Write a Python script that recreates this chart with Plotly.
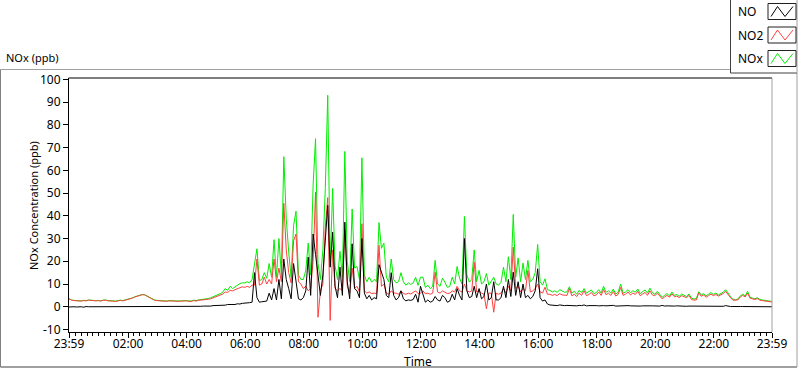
import pandas as pd
import plotly.graph_objects as go

# ---------------- data (5-minute samples, 23:59 -> 23:59) ----------------
nox_ppb = [
    3.6, 3.0, 2.8, 2.7, 2.9, 2.6, 2.8, 2.7, 3.0, 2.8, 2.6, 2.7,
    2.8, 2.6, 2.9, 3.0, 2.7, 2.8, 2.6, 2.5, 2.8, 2.9, 2.7, 3.0,
    3.1, 3.4, 3.9, 4.4, 4.8, 5.2, 5.4, 5.3, 4.7, 4.0, 3.4, 3.0,
    2.8, 2.7, 2.6, 2.8, 2.5, 2.7, 2.6, 2.8, 2.7, 2.5, 2.6, 2.8,
    2.7, 2.6, 2.5, 2.9, 2.7, 3.0, 3.1, 3.3, 3.2, 3.6, 3.9, 4.3,
    4.9, 5.3, 5.8, 6.4, 8.0, 7.2, 9.0, 8.0, 8.8, 9.5, 10.2, 10.5,
    10.5, 11.0, 10.5, 12.0, 19.0, 25.5, 11.5, 12.0, 15.0, 12.5, 19.0, 13.0,
    29.5, 13.0, 30.0, 14.0, 66.0, 38.8, 24.0, 13.0, 35.7, 42.0, 14.0, 12.0,
    12.0, 16.0, 28.0, 14.0, 53.4, 73.9, 19.0, 12.0, 25.0, 52.0, 93.0, 18.0,
    52.0, 18.0, 12.0, 24.4, 13.0, 68.3, 20.0, 11.0, 43.0, 17.0, 17.7, 12.0,
    65.5, 14.0, 11.0, 13.0, 10.8, 12.0, 11.0, 37.0, 25.7, 28.0, 13.0, 11.0,
    21.0, 12.0, 10.5, 11.0, 15.0, 11.0, 9.5, 10.5, 9.8, 10.5, 13.0, 9.4,
    13.0, 13.0, 8.5, 9.5, 8.0, 9.0, 20.4, 10.0, 9.0, 12.6, 10.8, 8.5,
    9.0, 13.0, 10.0, 17.7, 12.6, 10.0, 39.7, 14.0, 10.8, 12.0, 25.0, 11.0,
    16.0, 10.0, 11.0, 14.6, 9.5, 11.0, 13.0, 10.0, 9.5, 10.8, 17.4, 11.0,
    22.0, 12.0, 40.6, 13.0, 21.5, 11.0, 19.2, 12.0, 20.4, 11.0, 12.0, 15.0,
    27.4, 11.0, 9.5, 12.3, 7.5, 7.2, 6.5, 7.0, 6.3, 7.5, 6.8, 6.4,
    6.5, 8.8, 6.0, 6.8, 5.5, 7.2, 6.2, 8.0, 6.0, 6.6, 7.4, 5.8,
    6.2, 7.5, 6.0, 9.0, 6.4, 7.0, 6.0, 7.8, 5.6, 6.5, 10.0, 6.0,
    6.5, 7.5, 6.2, 7.0, 6.4, 7.8, 5.8, 6.6, 7.4, 6.0, 8.2, 6.2,
    5.5, 6.8, 5.2, 4.2, 5.0, 5.8, 4.8, 6.5, 5.0, 5.4, 4.6, 5.6,
    5.0, 4.5, 5.6, 3.8, 3.4, 3.6, 6.6, 5.2, 5.8, 4.8, 5.5, 6.2,
    5.4, 6.0, 5.2, 5.8, 6.4, 7.5, 5.8, 4.5, 3.2, 3.0, 3.4, 4.8,
    5.5, 4.8, 6.8, 4.2, 3.8, 3.5, 4.0, 3.2, 3.0, 2.8, 2.6, 2.4,
    2.3,
]

no2_ppb = [
    3.5, 2.9, 2.7, 2.6, 2.8, 2.5, 2.7, 2.6, 2.9, 2.7, 2.5, 2.6,
    2.7, 2.5, 2.8, 2.9, 2.6, 2.7, 2.5, 2.3, 2.7, 2.8, 2.6, 2.9,
    3.0, 3.3, 3.8, 4.3, 4.7, 5.1, 5.3, 5.2, 4.6, 3.9, 3.3, 2.9,
    2.7, 2.6, 2.5, 2.7, 2.4, 2.6, 2.5, 2.7, 2.6, 2.4, 2.5, 2.7,
    2.6, 2.4, 2.3, 2.7, 2.5, 2.8, 2.9, 3.1, 2.9, 3.3, 3.5, 3.9,
    4.4, 4.7, 5.2, 5.6, 6.5, 6.3, 7.2, 7.0, 7.5, 8.0, 8.5, 8.8,
    8.5, 9.0, 8.5, 9.5, 9.5, 21.0, 9.5, 10.0, 13.0, 10.0, 12.0, 10.0,
    21.0, 11.0, 17.0, 11.0, 45.5, 25.0, 15.0, 10.5, 29.0, 32.0, 11.0, 10.0,
    8.0, 9.0, 7.0, 8.0, 20.0, 50.4, -4.6, 7.0, 10.0, 35.0, 48.0, -6.0,
    25.0, 8.0, 7.0, 8.0, 7.0, 33.6, 9.0, 6.0, 17.0, 8.0, 9.0, 6.5,
    36.5, 7.0, 6.0, 6.5, 5.8, 6.0, 5.8, 27.0, 9.0, 10.0, 6.0, 5.5,
    7.0, 6.0, 6.0, 5.5, 7.0, 5.8, 5.5, 6.0, 5.6, 6.2, 7.0, 5.8,
    6.0, 7.0, 5.7, 6.0, 5.5, 6.0, 15.2, 6.5, 6.0, 7.0, 6.5, 5.8,
    6.0, 7.0, 6.5, 9.0, 7.0, 6.5, 10.0, 7.0, 6.5, 7.0, 19.6, 6.5,
    7.0, 6.0, 5.5, -0.9, 6.0, 6.0, -2.4, 6.0, 5.5, 6.0, 8.0, 6.0,
    9.0, 7.0, 26.2, 8.0, 9.0, 6.5, 8.0, 7.0, 16.0, 6.5, 7.0, 8.0,
    10.0, 6.5, 6.0, 8.6, 5.5, 5.5, 5.0, 5.4, 4.9, 5.8, 5.2, 5.0,
    5.0, 8.0, 4.8, 5.5, 4.5, 6.0, 5.0, 7.0, 4.9, 5.4, 6.3, 4.8,
    5.2, 6.5, 5.0, 7.6, 5.3, 6.0, 5.0, 6.7, 4.7, 5.5, 8.5, 5.0,
    5.5, 6.5, 5.2, 6.0, 5.4, 6.8, 4.9, 5.6, 6.3, 5.0, 7.0, 5.2,
    4.8, 6.0, 4.5, 3.5, 4.3, 5.0, 4.2, 5.7, 4.4, 4.7, 4.0, 4.9,
    4.4, 4.0, 5.0, 3.2, 2.9, 3.0, 6.1, 4.6, 5.2, 4.2, 4.9, 5.5,
    4.9, 5.4, 4.7, 5.3, 5.8, 6.8, 5.3, 4.0, 2.9, 2.8, 3.0, 4.3,
    5.0, 4.3, 6.0, 3.8, 3.4, 3.2, 3.6, 2.9, 2.7, 2.5, 2.3, 2.2,
    2.1,
]

no_ppb = [
    -0.1, 0.1, 0.0, -0.1, 0.1, 0.0, -0.2, 0.1, 0.0, 0.0, -0.1, 0.1,
    0.0, -0.1, 0.1, 0.0, 0.0, -0.1, 0.1, 0.0, 0.0, 0.1, -0.1, 0.0,
    0.0, 0.1, 0.0, 0.0, 0.1, 0.0, 0.0, 0.1, 0.0, -0.1, 0.0, 0.0,
    0.0, 0.0, -0.1, 0.0, 0.1, 0.0, 0.0, -0.1, 0.0, 0.0, 0.1, 0.0,
    0.0, 0.0, 0.0, 0.1, 0.1, 0.2, 0.2, 0.3, 0.2, 0.4, 0.3, 0.5,
    0.5, 0.6, 0.5, 0.8, 0.7, 1.0, 0.9, 1.1, 1.0, 1.3, 1.2, 1.5,
    1.5, 1.5, 1.8, 2.0, 15.0, 4.0, 2.0, 2.2, 2.5, 2.5, 6.0, 3.0,
    8.0, 3.0, 12.0, 3.5, 21.0, 12.0, 8.0, 3.5, 19.0, 10.0, 3.5, 3.0,
    4.0, 7.0, 21.8, 5.0, 32.0, 23.0, 14.0, 5.0, 14.0, 28.0, 44.6, 17.4,
    32.8, 9.0, 4.0, 17.4, 5.0, 37.2, 11.0, 3.5, 27.7, 8.0, 7.0, 4.0,
    30.0, 6.0, 3.5, 5.0, 3.0, 4.0, 3.5, 18.5, 15.0, 12.0, 5.0, 4.0,
    15.0, 5.0, 3.0, 4.0, 7.0, 3.5, 2.6, 3.0, 2.8, 3.2, 5.5, 2.0,
    9.0, 5.0, 2.0, 3.0, 2.0, 2.5, 4.5, 3.0, 2.5, 5.0, 4.0, 2.0,
    2.5, 5.5, 3.0, 8.0, 5.0, 3.0, 30.0, 7.0, 4.0, 4.5, 9.0, 4.0,
    8.0, 3.5, 4.5, 10.0, 3.0, 4.0, 11.0, 3.0, 3.0, 4.0, 9.0, 4.0,
    12.0, 4.5, 15.2, 5.0, 11.0, 4.0, 10.0, 4.0, 5.0, 3.5, 4.5, 7.0,
    16.7, 4.0, 2.5, 3.0, 1.2, 0.8, 0.6, 0.7, 0.5, 0.8, 0.6, 0.5,
    0.6, 0.5, 0.7, 0.5, 0.4, 0.6, 0.5, 0.8, 0.4, 0.5, 0.6, 0.5,
    0.5, 0.4, 0.6, 0.5, 0.4, 0.5, 0.4, 0.6, 0.3, 0.4, 0.5, 0.4,
    0.4, 0.5, 0.4, 0.3, 0.5, 0.4, 0.3, 0.4, 0.5, 0.3, 0.4, 0.4,
    0.3, 0.4, 0.3, 0.6, 0.3, 0.4, 0.3, 0.4, 0.3, 0.4, 0.3, 0.3,
    0.3, 0.2, 0.3, 0.3, 0.2, 0.2, 0.3, 0.3, 0.2, 0.2, 0.3, 0.2,
    0.2, 0.2, 0.1, 0.3, 0.2, 0.5, 0.2, 0.1, 0.1, 0.0, 0.1, 0.1,
    0.1, 0.1, 0.3, 0.0, 0.0, 0.1, 0.0, 0.0, 0.0, 0.0, 0.0, 0.0,
    0.0,
]

start_time = "2000-01-01 23:59"
sample_step = "5min"
x_tick_times = ["2000-01-01 23:59", "2000-01-02 02:00", "2000-01-02 04:00",
                "2000-01-02 06:00", "2000-01-02 08:00", "2000-01-02 10:00",
                "2000-01-02 12:00", "2000-01-02 14:00", "2000-01-02 16:00",
                "2000-01-02 18:00", "2000-01-02 20:00", "2000-01-02 22:00",
                "2000-01-02 23:59"]
x_tick_labels = ["23:59", "02:00", "04:00", "06:00", "08:00", "10:00", "12:00",
                 "14:00", "16:00", "18:00", "20:00", "22:00", "23:59"]
y_ticks = [-10, 0, 10, 20, 30, 40, 50, 60, 70, 80, 90, 100]

times = pd.date_range(start_time, periods=len(nox_ppb), freq=sample_step)

# ---------------- figure ----------------
FONT = "Noto Sans"
FS = 11
L, T, W, H = 69, 78, 703, 254
FIG_W, FIG_H = 800, 369


def fx(p):
    return (p - L) / W


def fy(p):
    return (T + H - p) / H


fig = go.Figure()
fig.add_trace(go.Scatter(x=times, y=nox_ppb, mode="lines", name="NOx",
                         line=dict(color="#00ee00", width=1)))
fig.add_trace(go.Scatter(x=times, y=no2_ppb, mode="lines", name="NO2",
                         line=dict(color="#ff4040", width=1)))
fig.add_trace(go.Scatter(x=times, y=no_ppb, mode="lines", name="NO",
                         line=dict(color="#000000", width=1)))

shapes = []


def seg(x0, y0, x1, y1, color, width=1):
    shapes.append(dict(type="line", xref="paper", yref="paper",
                       x0=fx(x0), y0=fy(y0), x1=fx(x1), y1=fy(y1),
                       line=dict(color=color, width=width)))


# outer frame
seg(0.5, 69.5, 730, 69.5, "#a0a0a0")
seg(0.5, 69.5, 0.5, 367, "#808080")
seg(0.5, 367, 797, 367, "#404040")
seg(797, 73, 797, 367, "#a0a0a0")
# plot area top and right border
seg(68.5, 78, 772, 78, "#000000")
seg(772, 78, 772, 332, "#a0a0a0")
# legend box
seg(730.5, 0, 730.5, 73, "#404040")
seg(730.5, 73, 797, 73, "#404040")
seg(797, 0, 797, 73, "#a0a0a0")

legend_items = [("NO", "#000000", 3.5), ("NO2", "#ff4040", 27), ("NOx", "#00ee00", 50.5)]
annotations = []
for name, col, top in legend_items:
    shapes.append(dict(type="rect", xref="paper", yref="paper",
                       x0=fx(768), y0=fy(top), x1=fx(796), y1=fy(top + 16),
                       line=dict(color="#202020", width=1), fillcolor="white"))
    pts = [(771, top + 13), (777.5, top + 3), (785, top + 13), (793, top + 3)]
    for (a, b), (c, d) in zip(pts[:-1], pts[1:]):
        seg(a, b, c, d, col)
    annotations.append(dict(text=name, xref="paper", yref="paper",
                            x=fx(736), y=fy(top + 8), xanchor="left",
                            yanchor="middle", showarrow=False,
                            font=dict(family=FONT, size=12, color="#000")))

annotations += [
    dict(text="NOx (ppb)", xref="paper", yref="paper", x=fx(4), y=fy(58),
         xanchor="left", yanchor="middle", showarrow=False,
         font=dict(family=FONT, size=FS, color="#000")),
    dict(text="NOx Concentration (ppb)", xref="paper", yref="paper",
         x=fx(33), y=fy(206), xanchor="center", yanchor="middle",
         textangle=-90, showarrow=False,
         font=dict(family=FONT, size=FS, color="#000")),
    dict(text="Time", xref="paper", yref="paper", x=fx(418), y=fy(361),
         xanchor="center", yanchor="middle", showarrow=False,
         font=dict(family=FONT, size=FS + 1, color="#000")),
]

fig.update_layout(
    width=FIG_W, height=FIG_H,
    margin=dict(l=L, r=FIG_W - L - W, t=T, b=FIG_H - T - H, pad=0),
    paper_bgcolor="white", plot_bgcolor="white",
    showlegend=False,
    font=dict(family=FONT, size=FS, color="#000"),
    shapes=shapes, annotations=annotations,
    xaxis=dict(
        range=[x_tick_times[0], x_tick_times[-1]],
        tickmode="array", tickvals=x_tick_times, ticktext=x_tick_labels,
        ticks="outside", ticklen=5, tickcolor="#000", tickwidth=1,
        ticklabelstandoff=-4,
        showline=True, linecolor="#000", linewidth=1,
        showgrid=False, zeroline=False,
        minor=dict(tickmode="linear", tick0="2000-01-02 00:00",
                   dtick=12 * 60 * 1000, ticks="outside", ticklen=3,
                   tickcolor="#000", showgrid=False),
        tickfont=dict(family=FONT, size=FS + 1, color="#000"),
    ),
    yaxis=dict(
        range=[-11.1, 100.6],
        tickmode="array", tickvals=y_ticks, ticktext=[str(v) for v in y_ticks],
        ticks="outside", ticklen=5, tickcolor="#000", tickwidth=1,
        showline=True, linecolor="#000", linewidth=1,
        showgrid=False, zeroline=False,
        tickfont=dict(family=FONT, size=FS + 1, color="#000"),
    ),
)

fig.write_html("out.html", config={"displayModeBar": False},
               post_script="document.body.style.margin='0px';")
